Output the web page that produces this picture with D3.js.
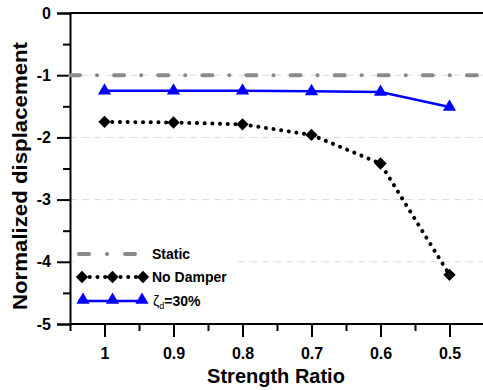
<!DOCTYPE html>
<html>
<head>
<meta charset="utf-8">
<script src="https://cdn.jsdelivr.net/npm/d3@7"></script>
<style>
  html, body { margin: 0; padding: 0; background: #fff; }
  svg { display: block; font-family: "Liberation Sans", Arial, sans-serif; font-weight: bold; }
</style>
</head>
<body>
<svg id="chart" width="483" height="390"></svg>
<script>
// Strength ratio categories on the x axis (decreasing left to right)
const strengthRatio = [1, 0.9, 0.8, 0.7, 0.6, 0.5];
// Normalized displacement for each case
const staticLevel = -1;
const noDamper = [-1.75, -1.76, -1.79, -1.96, -2.42, -4.21];
const damper30 = [-1.25, -1.25, -1.25, -1.26, -1.27, -1.51];
const yTicks = [0, -1, -2, -3, -4, -5];
const xTicks = [1, 0.9, 0.8, 0.7, 0.6, 0.5];

const svg = d3.select("#chart");
const plotL = 70, plotR = 484, plotT = 13, plotB = 324;

const x = d3.scaleLinear().domain([1.05, 0.45]).range([plotL, plotR]);
const y = d3.scaleLinear().domain([0, -5]).range([plotT, plotB]);

// light dashed grid lines
svg.append("g").selectAll("line")
  .data([-1, -2, -3, -4]).join("line")
  .attr("x1", plotL).attr("x2", plotR)
  .attr("y1", d => y(d)).attr("y2", d => y(d))
  .attr("stroke", "#dcdcdc").attr("stroke-width", 1)
  .attr("stroke-dasharray", "7,5");

// top frame line
svg.append("line")
  .attr("x1", plotL).attr("x2", plotR)
  .attr("y1", plotT).attr("y2", plotT)
  .attr("stroke", "#000").attr("stroke-width", 2);

// y axis: major and minor ticks pointing outward
svg.append("g").attr("transform", `translate(${plotL},0)`)
  .call(d3.axisLeft(y).tickValues(yTicks).tickSize(13).tickPadding(6).tickFormat(d => String(d)));
svg.append("g").attr("transform", `translate(${plotL},0)`)
  .call(d3.axisLeft(y).tickValues([-0.5, -1.5, -2.5, -3.5, -4.5]).tickSize(7).tickFormat(""))
  .call(g => g.select(".domain").remove());

// x axis: major and minor ticks pointing down
const xAxis = svg.append("g").attr("transform", `translate(0,${plotB})`)
  .call(d3.axisBottom(x).tickValues(xTicks).tickSize(13).tickPadding(11).tickFormat(d => d === 1 ? "1" : d3.format(".1f")(d)));
svg.append("g").attr("transform", `translate(0,${plotB})`)
  .call(d3.axisBottom(x).tickValues([1.05, 0.95, 0.85, 0.75, 0.65, 0.55]).tickSize(7).tickFormat(""))
  .call(g => g.select(".domain").remove());

svg.selectAll(".domain").attr("stroke", "#000").attr("stroke-width", 2);
svg.selectAll(".tick line").attr("stroke", "#000").attr("stroke-width", 2);
svg.selectAll(".tick text")
  .attr("font-family", "Liberation Sans, Arial, sans-serif")
  .attr("font-weight", "bold").attr("font-size", 16).attr("fill", "#000");
xAxis.selectAll(".domain").attr("d", `M${plotL},0H${plotR}`);

// static reference level: long dash / dot pattern
const staticStyle = s => s.attr("stroke", "#8a8a8a").attr("stroke-width", 4)
  .attr("stroke-linecap", "round").attr("stroke-dasharray", "10,17,0.1,17");
svg.append("line")
  .attr("x1", plotL).attr("x2", plotR)
  .attr("y1", y(staticLevel)).attr("y2", y(staticLevel))
  .call(staticStyle);

// no damper: dotted line with diamonds
const line = d3.line().x((d, i) => x(strengthRatio[i])).y(d => y(d));
const dotStyle = s => s.attr("fill", "none").attr("stroke", "#000").attr("stroke-width", 4)
  .attr("stroke-linecap", "round").attr("stroke-dasharray", "0.1,7.6");
svg.append("path").datum(noDamper).attr("d", line).call(dotStyle);
const diamond = d3.symbol().type(d3.symbolSquare).size(76)();
svg.append("g").selectAll("path")
  .data(noDamper).join("path")
  .attr("d", diamond)
  .attr("transform", (d, i) => `translate(${x(strengthRatio[i])},${y(d)}) rotate(45)`)
  .attr("fill", "#000");

// 30% damping ratio: solid blue line with triangles
const blue = "#0000ff";
svg.append("path").datum(damper30).attr("d", line)
  .attr("fill", "none").attr("stroke", blue).attr("stroke-width", 2.5);
const tri = d3.symbol().type(d3.symbolTriangle).size(75)();
svg.append("g").selectAll("path")
  .data(damper30).join("path")
  .attr("d", tri)
  .attr("transform", (d, i) => `translate(${x(strengthRatio[i])},${y(d)})`)
  .attr("fill", blue);

// legend
const lg = svg.append("g");
lg.append("rect").attr("x", 74).attr("y", 243).attr("width", 160).attr("height", 70).attr("fill", "#fff");
const rows = [254, 277, 301];
lg.append("line").attr("x1", 79).attr("x2", 135).attr("y1", rows[0]).attr("y2", rows[0])
  .call(staticStyle).attr("stroke-dasharray", "10,18,0.1,18");
lg.append("line").attr("x1", 82).attr("x2", 143).attr("y1", rows[1]).attr("y2", rows[1]).call(dotStyle);
lg.selectAll("path.ld").data([82, 112.5, 143]).join("path").attr("class", "ld")
  .attr("d", diamond).attr("transform", d => `translate(${d},${rows[1]}) rotate(45)`).attr("fill", "#000");
lg.append("line").attr("x1", 78).attr("x2", 146).attr("y1", rows[2]).attr("y2", rows[2])
  .attr("stroke", blue).attr("stroke-width", 2.5);
lg.selectAll("path.lt").data([83, 112.5, 142]).join("path").attr("class", "lt")
  .attr("d", tri).attr("transform", d => `translate(${d},${rows[2] - 1})`).attr("fill", blue);

const labelFont = s => s.attr("font-family", "Liberation Sans, Arial, sans-serif")
  .attr("font-weight", "bold").attr("font-size", 14).attr("fill", "#000");
lg.append("text").attr("x", 152).attr("y", rows[0] + 5).text("Static").call(labelFont);
lg.append("text").attr("x", 152).attr("y", rows[1] + 5).text("No Damper").call(labelFont);
const zt = lg.append("text").attr("x", 153).attr("y", rows[2] + 5).call(labelFont);
zt.append("tspan").attr("font-weight", "normal").text("ζ");
zt.append("tspan").attr("font-size", 9).attr("font-weight", "normal").attr("dy", 3).text("d");
zt.append("tspan").attr("dy", -3).text("=30%");

// axis titles
svg.append("text")
  .attr("x", (plotL + plotR) / 2 - 1).attr("y", 383)
  .attr("text-anchor", "middle").attr("font-size", 20).attr("font-weight", "bold")
  .text("Strength Ratio");
svg.append("text")
  .attr("transform", `translate(27,176) rotate(-90)`)
  .attr("text-anchor", "middle").attr("font-size", 20).attr("font-weight", "bold")
  .attr("textLength", 268).attr("lengthAdjust", "spacingAndGlyphs")
  .text("Normalized displacement");
</script>
</body>
</html>
